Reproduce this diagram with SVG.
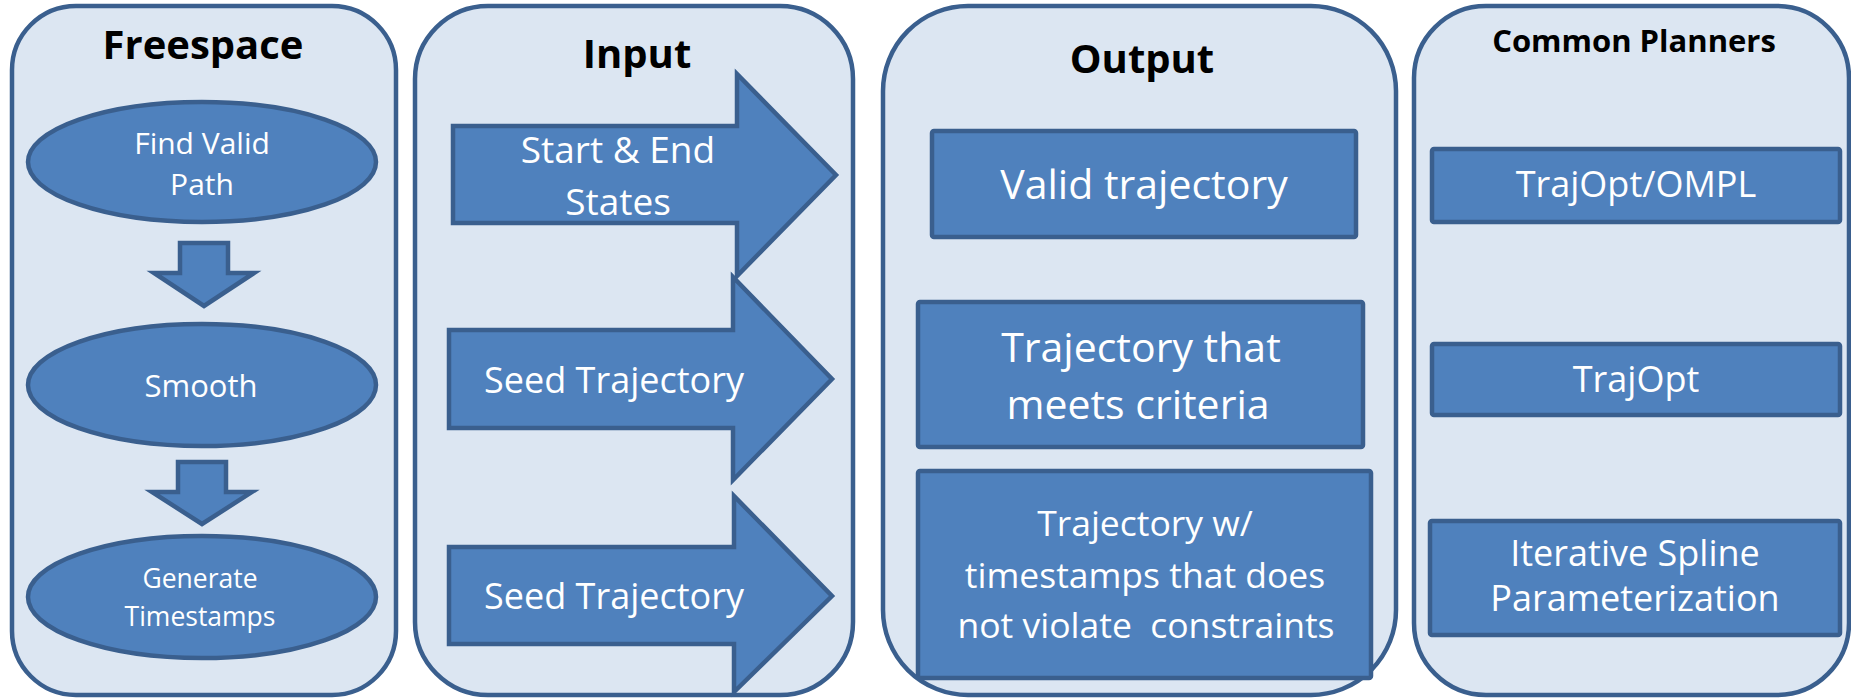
<svg xmlns="http://www.w3.org/2000/svg" width="1851" height="698" viewBox="0 0 1851 698">
<style>
.panel{fill:#DCE6F2;stroke:#3A5F8E;stroke-width:4.5}
.shape{fill:#4F81BD;stroke:#3A5F8E;stroke-width:4.5;stroke-linejoin:miter}
.title{font-family:"Open Sans","Liberation Sans",sans-serif;font-weight:bold;fill:#000;text-anchor:middle}
.lbl{font-family:"Open Sans","Liberation Sans",sans-serif;fill:#fff;text-anchor:middle}
</style>
<rect width="1851" height="698" fill="#fff"/>
<g id="panel-freespace">
<rect class="panel" x="12" y="6" width="384" height="689" rx="64" ry="64"/>
<text class="title" x="203" y="59" font-size="40">Freespace</text>
</g>
<g id="panel-input">
<rect class="panel" x="415" y="6" width="438" height="689" rx="73" ry="73"/>
<text class="title" x="637" y="68" font-size="40">Input</text>
</g>
<g id="panel-output">
<rect class="panel" x="883" y="6" width="513" height="689" rx="85" ry="85"/>
<text class="title" x="1142" y="73" font-size="40">Output</text>
</g>
<g id="panel-planners">
<rect class="panel" x="1414" y="6" width="435" height="689" rx="72" ry="72"/>
<text class="title" x="1634" y="52" font-size="31">Common Planners</text>
</g>
<g id="connectors">
<path class="shape" d="M180 243 H228 V273 H254 L204 306 L154 273 H180 Z"/>
<path class="shape" d="M178 462 H226 V492 H252 L202 524 L152 492 H178 Z"/>
</g>
<g id="find-valid-path">
<ellipse class="shape" cx="202" cy="162" rx="174" ry="60"/>
<text class="lbl" x="202" y="154" font-size="30">Find Valid</text>
<text class="lbl" x="202" y="195" font-size="30">Path</text>
</g>
<g id="smooth">
<ellipse class="shape" cx="202" cy="385" rx="174" ry="61"/>
<text class="lbl" x="201" y="397" font-size="31">Smooth</text>
</g>
<g id="generate-timestamps">
<ellipse class="shape" cx="202" cy="597" rx="174" ry="61"/>
<text class="lbl" x="200" y="588" font-size="26.5">Generate</text>
<text class="lbl" x="200" y="626" font-size="26.5">Timestamps</text>
</g>
<g id="start-end-states">
<path class="shape" d="M453 126 H737 V74 L836 175 L737 276 V223 H453 Z"/>
<text class="lbl" x="618" y="163" font-size="37">Start &amp; End</text>
<text class="lbl" x="618" y="215" font-size="37">States</text>
</g>
<g id="seed-trajectory-1">
<path class="shape" d="M449 330 H733 V277 L832 379 L733 480 V428 H449 Z"/>
<text class="lbl" x="614" y="393" font-size="36">Seed Trajectory</text>
</g>
<g id="seed-trajectory-2">
<path class="shape" d="M449 547 H734 V496 L832 596 L734 692 V644 H449 Z"/>
<text class="lbl" x="614" y="609" font-size="36">Seed Trajectory</text>
</g>
<g id="valid-trajectory">
<rect class="shape" x="932" y="131" width="424" height="106" rx="2"/>
<text class="lbl" x="1144" y="199" font-size="41">Valid trajectory</text>
</g>
<g id="trajectory-criteria">
<rect class="shape" x="918" y="302" width="445" height="145" rx="2"/>
<text class="lbl" x="1141" y="362" font-size="41">Trajectory that</text>
<text class="lbl" x="1138" y="419" font-size="41">meets criteria</text>
</g>
<g id="trajectory-timestamps">
<rect class="shape" x="918" y="471" width="453" height="207" rx="2"/>
<text class="lbl" x="1145" y="536" font-size="35.5">Trajectory w/</text>
<text class="lbl" x="1145" y="588" font-size="35.5">timestamps that does</text>
<text class="lbl" x="1146" y="638" font-size="35.5" xml:space="preserve">not violate  constraints</text>
</g>
<g id="trajopt-ompl">
<rect class="shape" x="1432" y="149" width="408" height="73" rx="2"/>
<text class="lbl" x="1636" y="197" font-size="36">TrajOpt/OMPL</text>
</g>
<g id="trajopt">
<rect class="shape" x="1432" y="344" width="408" height="71" rx="2"/>
<text class="lbl" x="1636" y="392" font-size="36">TrajOpt</text>
</g>
<g id="iterative-spline">
<rect class="shape" x="1430" y="521" width="410" height="114" rx="2"/>
<text class="lbl" x="1635" y="566" font-size="36">Iterative Spline</text>
<text class="lbl" x="1635" y="611" font-size="36">Parameterization</text>
</g>
</svg>
